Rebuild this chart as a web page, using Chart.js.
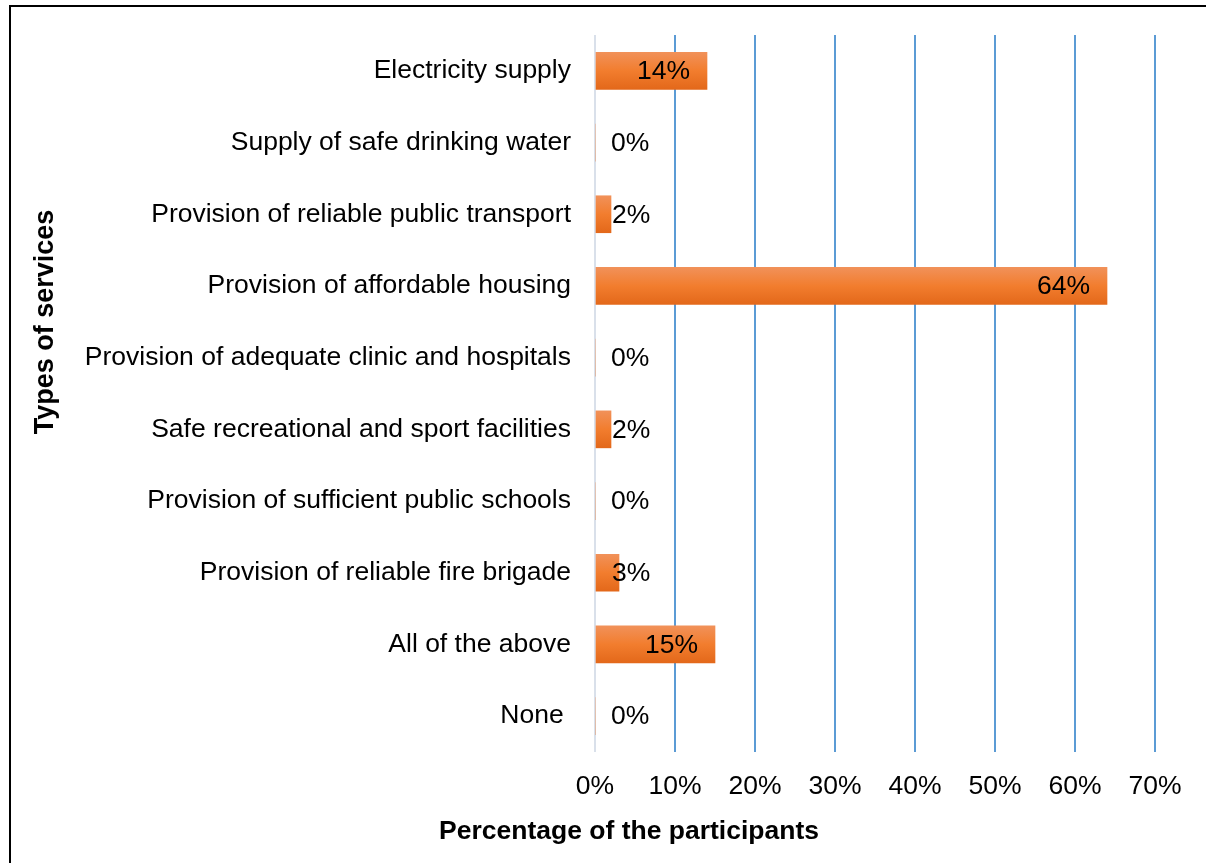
<!DOCTYPE html>
<html>
<head>
<meta charset="utf-8">
<script src="https://cdn.jsdelivr.net/npm/chart.js@4"></script>
<style>
  html, body { margin: 0; padding: 0; background: #fff; overflow: hidden; }
  #frame {
    position: absolute; left: 9px; top: 5px; width: 1400px; height: 1000px;
    border: 2px solid #000; box-sizing: border-box;
  }
  #chart { position: absolute; left: 0; top: 0; }
</style>
</head>
<body>
<div id="frame"></div>
<canvas id="chart" width="1206" height="863"></canvas>
<script>
const categories = [
  "Electricity supply",
  "Supply of safe drinking water",
  "Provision of reliable public transport",
  "Provision of affordable housing",
  "Provision of adequate clinic and hospitals",
  "Safe recreational and sport facilities",
  "Provision of sufficient public schools",
  "Provision of reliable fire brigade",
  "All of the above",
  "None "
];
const percentages = [14, 0, 2, 64, 0, 2, 0, 3, 15, 0];
const xTickValues = [0, 10, 20, 30, 40, 50, 60, 70];

const FONT = "'Liberation Sans', Arial, sans-serif";

// orange bar with a soft top-to-bottom shading
function barFill(c) {
  const chart = c.chart;
  const y = chart.scales.y;
  if (!y || c.dataIndex === undefined) return "#F07C2E";
  const cy = y.getPixelForValue(c.dataIndex);
  if (!isFinite(cy)) return "#F07C2E";
  const g = chart.ctx.createLinearGradient(0, cy - 18.5, 0, cy + 18.5);
  g.addColorStop(0, "#F19159");
  g.addColorStop(0.5, "#F27D2E");
  g.addColorStop(1, "#E3681A");
  return g;
}

// value labels near the bar end, pushed right when they don't fit
const valueLabels = {
  id: "valueLabels",
  afterDatasetsDraw(chart) {
    const ctx = chart.ctx;
    const meta = chart.getDatasetMeta(0);
    ctx.save();
    ctx.font = "26.5px " + FONT;
    ctx.fillStyle = "#000";
    ctx.textBaseline = "middle";
    ctx.textAlign = "left";
    meta.data.forEach((bar, i) => {
      const text = percentages[i] + "%";
      const w = ctx.measureText(text).width;
      let left = bar.x - 17 - w;
      if (left < bar.base + 16) left = bar.base + 16;
      ctx.fillText(text, left, bar.y + 1);
    });
    ctx.restore();
  }
};

// axis titles
const axisTitles = {
  id: "axisTitles",
  afterDraw(chart) {
    const ctx = chart.ctx;
    ctx.save();
    ctx.fillStyle = "#000";
    ctx.textAlign = "center";
    ctx.textBaseline = "middle";
    ctx.font = "bold 26.5px " + FONT;
    ctx.fillText("Percentage of the participants", 629, 832);
    ctx.font = "bold 27px " + FONT;
    ctx.translate(46, 322);
    ctx.rotate(-Math.PI / 2);
    ctx.fillText("Types of services", 0, 0);
    ctx.restore();
  }
};

new Chart(document.getElementById("chart"), {
  type: "bar",
  data: {
    labels: categories,
    datasets: [{
      data: percentages,
      backgroundColor: barFill,
      borderWidth: 0,
      barThickness: 37
    }]
  },
  options: {
    indexAxis: "y",
    responsive: false,
    animation: false,
    layout: { padding: { top: 35, right: 51, bottom: 0, left: 0 } },
    plugins: {
      legend: { display: false },
      tooltip: { enabled: false }
    },
    scales: {
      x: {
        min: 0,
        max: 70,
        afterBuildTicks: scale => { scale.ticks = xTickValues.map(v => ({ value: v })); },
        afterFit: scale => { scale.height = 111; },
        border: { display: false },
        grid: {
          drawTicks: false,
          lineWidth: 2,
          color: c => (c.tick && c.tick.value === 0 ? "#D9E0EA" : "#5B9BD5")
        },
        ticks: {
          padding: 19,
          color: "#000",
          font: { family: FONT, size: 26.5 },
          callback: v => v + "%"
        }
      },
      y: {
        afterFit: scale => {
          scale.width = 595;
          scale.paddingTop = 0;
          scale.paddingBottom = 0;
        },
        border: { display: false },
        grid: { display: false, drawTicks: false },
        ticks: {
          padding: 24,
          color: "#000",
          font: { family: FONT, size: 26.5 }
        }
      }
    }
  },
  plugins: [valueLabels, axisTitles]
});
</script>
</body>
</html>
